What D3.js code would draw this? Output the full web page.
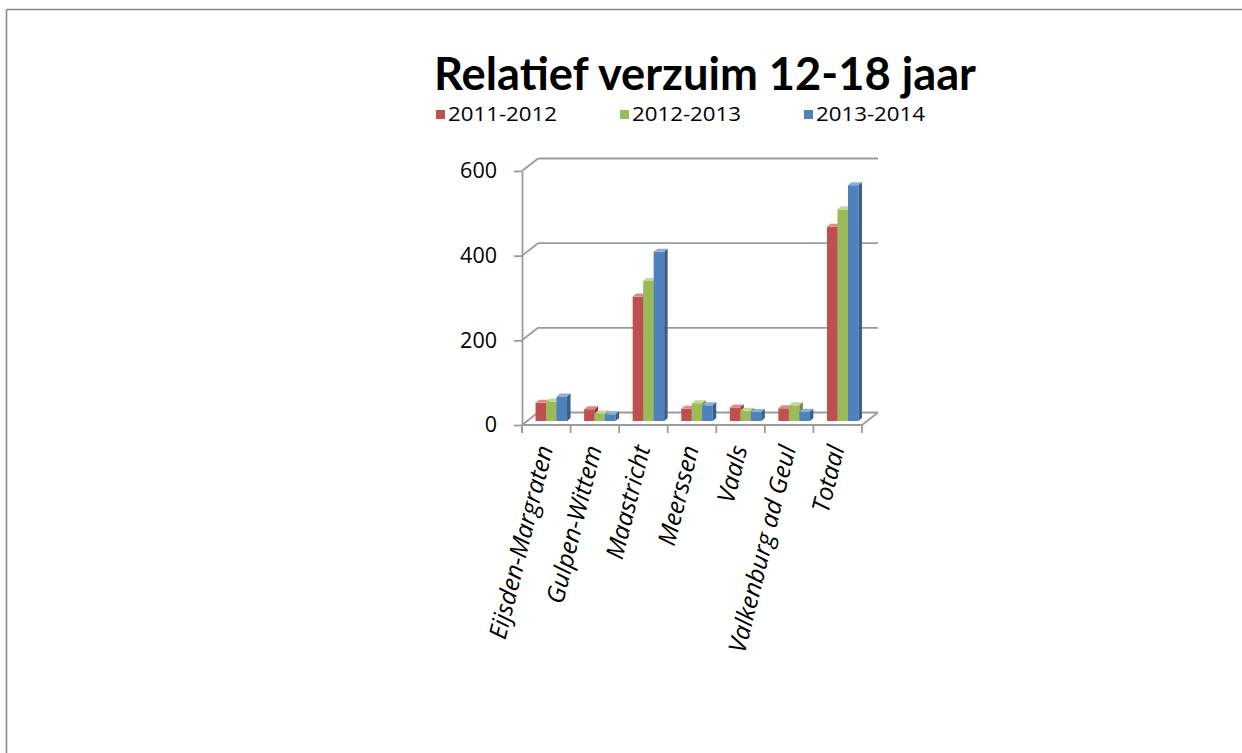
<!DOCTYPE html>
<html><head><meta charset="utf-8">
<script src="https://cdn.jsdelivr.net/npm/d3@7"></script>
<style>html,body{margin:0;padding:0;background:#fff;}svg{display:block;}</style>
</head><body>
<script>
const categories = ["Eijsden-Margraten","Gulpen-Wittem","Maastricht","Meerssen","Vaals","Valkenburg ad Geul","Totaal"];
const seriesNames = ["2011-2012","2012-2013","2013-2014"];
const s2011 = [43, 28, 294, 29, 32, 30, 459];
const s2012 = [46, 18, 331, 42, 24, 37, 500];
const s2013 = [58, 16, 400, 37, 21, 22, 557];
const yTicks = [0, 200, 400, 600];
const titleText = "Relatief verzuim 12-18 jaar";

const seriesValues = [s2011, s2012, s2013];
const colors = [
  {front:"#C0504D", top:"#DA8C8A", side:"#8E3A38"},
  {front:"#9BBB59", top:"#C4D89A", side:"#718A3F"},
  {front:"#4F81BD", top:"#8DB0DA", side:"#385E8C"}
];

const W = 1242, H = 753;
const svg = d3.select("body").append("svg").attr("width", W).attr("height", H);
const titleFont = "Lato, 'Open Sans', sans-serif";
const font = "'Open Sans', Lato, sans-serif";

// page frame
svg.append("line").attr("x1",6.5).attr("y1",9.5).attr("x2",W).attr("y2",9.5).attr("stroke","#8a8a8a").attr("stroke-width",1.6);
svg.append("line").attr("x1",6.5).attr("y1",9.5).attr("x2",6.5).attr("y2",H).attr("stroke","#8a8a8a").attr("stroke-width",1.6);

// title
svg.append("text").attr("x",705).attr("y",90).attr("text-anchor","middle")
  .attr("font-family",titleFont).attr("font-weight",700).attr("font-size",45)
  .attr("textLength",542).attr("lengthAdjust","spacingAndGlyphs")
  .attr("fill","#000").text(titleText);

// legend
const legX = [436, 620, 804];
seriesNames.forEach((n,i)=>{
  svg.append("rect").attr("x",legX[i]).attr("y",110).attr("width",9).attr("height",9).attr("fill",colors[i].front);
  svg.append("text").attr("x",legX[i]+12).attr("y",121).attr("font-family",font).attr("font-size",20)
    .attr("textLength",109).attr("lengthAdjust","spacingAndGlyphs")
    .attr("fill","#000").text(n);
});

// scales
const x = d3.scaleBand().domain(categories).range([522, 862]).paddingInner(0).paddingOuter(0);
const y = d3.scaleLinear().domain([0, 600]).range([425, 171]);
const groupW = 31.5;
const xs = d3.scaleBand().domain(seriesNames).range([0, groupW]);
const DX = 16, DY = -12.5;   // wall depth
const ox = 5, oy = -4;       // bar plane offset
const bdx = 3.5, bdy = -3;   // bar depth

const gridColor = "#9c9c9c";
const g = svg.append("g");
yTicks.forEach(t=>{
  const yy = y(t);
  g.append("line").attr("x1",522+DX).attr("y1",yy+DY).attr("x2",862+DX).attr("y2",yy+DY)
    .attr("stroke",gridColor).attr("stroke-width",1.8);
  g.append("line").attr("x1",522).attr("y1",yy).attr("x2",522+DX).attr("y2",yy+DY)
    .attr("stroke",gridColor).attr("stroke-width",1.8);
});
g.append("line").attr("x1",862).attr("y1",y(0)).attr("x2",862+DX).attr("y2",y(0)+DY).attr("stroke",gridColor).attr("stroke-width",1.8);
g.append("line").attr("x1",522).attr("y1",y(0)).attr("x2",862).attr("y2",y(0)).attr("stroke",gridColor).attr("stroke-width",1.8);

// y axis
const yAxis = d3.axisLeft(y).tickValues(yTicks).tickSize(8).tickSizeOuter(0).tickPadding(17);
const ya = svg.append("g").attr("transform","translate(522,0)").call(yAxis);
ya.select(".domain").attr("stroke",gridColor).attr("stroke-width",1.8);
ya.selectAll(".tick line").attr("stroke",gridColor).attr("stroke-width",1.8);
ya.selectAll(".tick text").attr("font-family",font).attr("font-size",21.5).attr("fill","#000");
svg.append("line").attr("x1",522).attr("y1",y(0)).attr("x2",522).attr("y2",y(0)+8).attr("stroke",gridColor).attr("stroke-width",1.8);

// x ticks at category boundaries
const bounds = categories.map(c=>x(c)).concat([x(categories[categories.length-1])+x.bandwidth()]);
bounds.forEach(b=>{
  svg.append("line").attr("x1",b).attr("y1",y(0)).attr("x2",b).attr("y2",y(0)+8).attr("stroke",gridColor).attr("stroke-width",1.8);
});

// bars
const bars = svg.append("g");
categories.forEach((c,ci)=>{
  seriesNames.forEach((s,si)=>{
    const v = seriesValues[si][ci];
    const bw = xs.bandwidth();
    const x0 = x(c) + (x.bandwidth()-groupW)/2 + xs(s) + ox;
    const yt = y(v) + oy, yb = y(0) + oy;
    const col = colors[si];
    bars.append("rect").attr("x",x0).attr("y",yt).attr("width",bw).attr("height",yb-yt).attr("fill",col.front);
    bars.append("polygon").attr("points",[[x0,yt],[x0+bw,yt],[x0+bw+bdx,yt+bdy],[x0+bdx,yt+bdy]].map(p=>p.join(",")).join(" ")).attr("fill",col.top);
    bars.append("polygon").attr("points",[[x0+bw,yt],[x0+bw+bdx,yt+bdy],[x0+bw+bdx,yb+bdy],[x0+bw,yb]].map(p=>p.join(",")).join(" ")).attr("fill",col.side);
  });
});

// x labels
categories.forEach(c=>{
  const cx = x(c) + x.bandwidth()/2 + 7;
  svg.append("text").attr("transform",`translate(${cx},448) rotate(-76)`)
    .attr("text-anchor","end").attr("font-family",font).attr("font-style","italic").attr("font-size",24.5)
    .attr("fill","#000").text(c);
});
</script>
</body></html>
